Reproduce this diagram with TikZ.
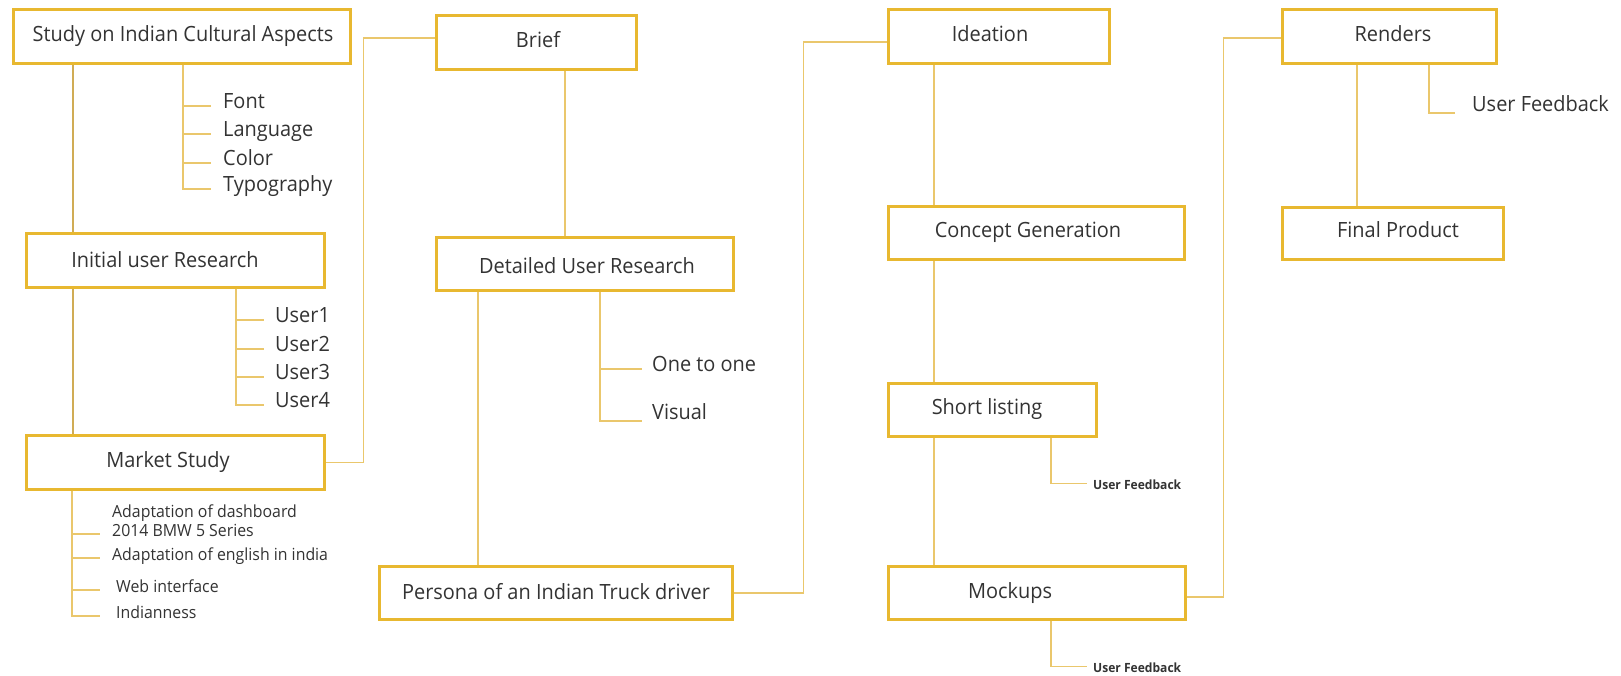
\documentclass[tikz,border=0pt]{standalone}
\usepackage{fontspec}
\setmainfont[FakeStretch=0.95]{Open Sans}
\definecolor{boxc}{HTML}{E8B830}
\definecolor{lnc}{HTML}{EAC76C}
\definecolor{lnd}{HTML}{D0AC55}
\definecolor{txc}{HTML}{333333}
\begin{document}
\begin{tikzpicture}[x=1pt,y=-1pt,
  box/.style={draw=boxc, line width=2.6pt, fill=white, anchor=north west, inner sep=0pt},
  lbl/.style={anchor=base, inner sep=0pt, text=txc, font=\fontsize{21}{25}\selectfont},
  sub/.style={anchor=base west, inner sep=0pt, text=txc, font=\fontsize{21}{25}\selectfont, text height=0.65em, text depth=0.2em},
  msub/.style={sub, font=\fontsize{16.7}{20}\selectfont},
  fb/.style={sub, font=\fontsize{12.7}{15}\selectfont\bfseries},
  conn/.style={draw=lnc, line width=1.6pt},
  connd/.style={draw=lnd, line width=1.6pt}]
\useasboundingbox (0,0) rectangle (1621,676);

% boxes
\node[box, minimum width=337pt, minimum height=54pt] (study) at (12,8) {};
\node[box, minimum width=298pt, minimum height=54pt] (initial) at (25,232) {};
\node[box, minimum width=298pt, minimum height=54pt] (market) at (25,434) {};
\node[box, minimum width=200pt, minimum height=54pt] (brief) at (435,14) {};
\node[box, minimum width=297pt, minimum height=53pt] (detailed) at (435,236) {};
\node[box, minimum width=353pt, minimum height=53pt] (persona) at (378,565) {};
\node[box, minimum width=221pt, minimum height=54pt] (ideation) at (887,8) {};
\node[box, minimum width=296pt, minimum height=53pt] (concept) at (887,205) {};
\node[box, minimum width=208pt, minimum height=53pt] (short) at (887,382) {};
\node[box, minimum width=297pt, minimum height=53pt] (mockups) at (887,565) {};
\node[box, minimum width=214pt, minimum height=54pt] (renders) at (1281,8) {};
\node[box, minimum width=221pt, minimum height=52pt] (final) at (1281,206) {};

% box labels
\node[lbl] (studyL) at (183,42) {Study on Indian Cultural Aspects};
\node[lbl] (initialL) at (165,267) {Initial user Research};
\node[lbl] (marketL) at (168,467) {Market Study};
\node[lbl] (briefL) at (538,48) {Brief};
\node[lbl] (detailedL) at (587,273) {Detailed User Research};
\node[lbl] (personaL) at (556,599) {Persona of an Indian Truck driver};
\node[lbl] (ideationL) at (990,42) {Ideation};
\node[lbl] (conceptL) at (1028,237) {Concept Generation};
\node[lbl] (shortL) at (987,414) {Short listing};
\node[lbl] (mockupsL) at (1010,598) {Mockups};
\node[lbl] (rendersL) at (1393,42) {Renders};
\node[lbl] (finalL) at (1398,237) {Final Product};

% sub items
\node[sub] (fontT) at (223,108.5) {Font};
\node[sub] (langT) at (223,136.5) {Language};
\node[sub] (colT) at (223,165.5) {Color};
\node[sub] (typoT) at (223,191.5) {Typography};

\node[sub] (u1) at (275,322) {User1};
\node[sub] (u2) at (275,351) {User2};
\node[sub] (u3) at (275,379) {User3};
\node[sub] (u4) at (275,407) {User4};

\node[msub] (adapt1) at (112,517) {Adaptation of dashboard};
\node[msub] (adapt2) at (112,536) {2014 BMW 5 Series};
\node[msub] (english) at (112,560) {Adaptation of english in india};
\node[msub] (web) at (116,592) {Web interface};
\node[msub] (indian) at (116,618) {Indianness};

\node[sub] (one) at (652,371) {One to one};
\node[sub] (visual) at (652,419) {Visual};

\node[fb] (uf1) at (1093,489) {User Feedback};
\node[fb] (uf2) at (1093,672) {User Feedback};
\node[sub, font=\fontsize{21}{25}\selectfont] (uf3) at (1472,112) {User Feedback};

% trunk x positions
\coordinate (xL) at (73,0);
\coordinate (xS) at (183,0);
\coordinate (xU) at (236,0);
\coordinate (xM) at (72,0);
\coordinate (xB) at (565,0);
\coordinate (xP) at (478,0);
\coordinate (xD) at (600,0);
\coordinate (xI) at (934,0);
\coordinate (xF) at (1051,0);
\coordinate (xR) at (1357,0);
\coordinate (xRF) at (1429,0);

% left column
\draw[connd] (study.south -| xL) -- (initial.north -| xL);
\draw[connd] (initial.south -| xL) -- (market.north -| xL);
\foreach \t in {fontT,langT,colT,typoT}
  \draw[conn] (study.south -| xS) |- ([xshift=-12pt]\t.west);
\foreach \t in {u1,u2,u3,u4}
  \draw[conn] (initial.south -| xU) |- ([xshift=-11pt]\t.west);
\draw[conn] (market.south -| xM) |- ([xshift=-12pt]adapt2.west);
\draw[conn] (market.south -| xM) |- ([xshift=-12pt]english.west);
\draw[conn] (market.south -| xM) |- ([xshift=-16pt]web.west);
\draw[conn] (market.south -| xM) |- ([xshift=-16pt]indian.west);

% market -> brief
\draw[conn] (market.east) -- ++(38,0) |- ([yshift=4pt]brief.west);
\draw[conn] (brief.south -| xB) -- (detailed.north -| xB);
\draw[conn] (detailed.south -| xP) -- (persona.north -| xP);
\draw[conn] (detailed.south -| xD) |- ([xshift=-10pt]one.west);
\draw[conn] (detailed.south -| xD) |- ([xshift=-10pt,yshift=-4pt]visual.west);

% persona -> ideation
\draw[conn] (persona.east) -- ++(70,0) |- ([yshift=-6pt]ideation.west);
\draw[conn] (ideation.south -| xI) -- (concept.north -| xI);
\draw[conn] (concept.south -| xI) -- (short.north -| xI);
\draw[conn] (short.south -| xI) -- (mockups.north -| xI);
\draw[conn] (short.south -| xF) |- ([xshift=-6pt,yshift=3.3pt]uf1.west);
\draw[conn] (mockups.south -| xF) |- ([xshift=-6pt,yshift=3.3pt]uf2.west);

% mockups -> renders
\draw[conn] ([yshift=-4pt]mockups.east) -- ++(37,0) |- ([yshift=-2pt]renders.west);
\draw[conn] (renders.south -| xR) -- (final.north -| xR);
\draw[conn] (renders.south -| xRF) |- ([xshift=-17pt,yshift=-3pt]uf3.west);
\end{tikzpicture}
\end{document}
